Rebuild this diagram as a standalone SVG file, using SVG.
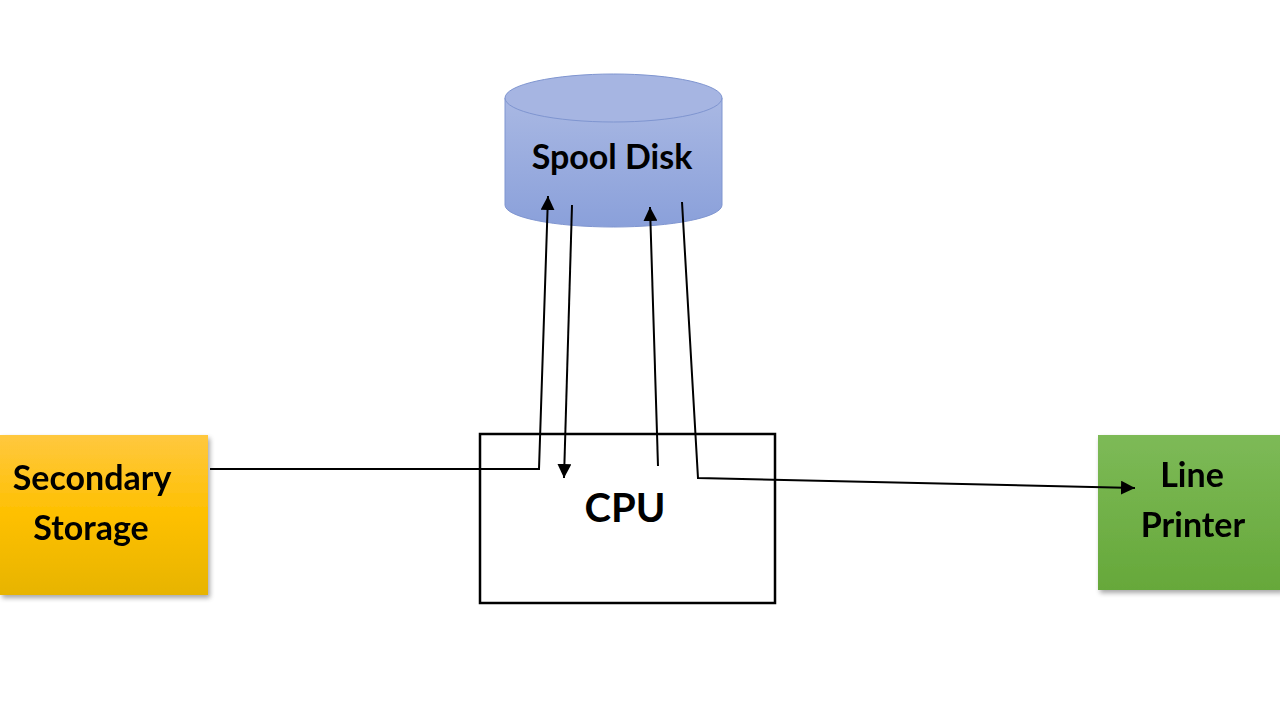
<svg xmlns="http://www.w3.org/2000/svg" width="1280" height="720" viewBox="0 0 1280 720">
<defs>
<linearGradient id="gBlue" x1="0" y1="0" x2="0" y2="1">
<stop offset="0" stop-color="#A9B8E3"/>
<stop offset="1" stop-color="#8AA0DA"/>
</linearGradient>
<linearGradient id="gYellow" x1="0" y1="0" x2="0" y2="1">
<stop offset="0" stop-color="#FFC83F"/>
<stop offset="0.5" stop-color="#FEC000"/>
<stop offset="1" stop-color="#E7B400"/>
</linearGradient>
<linearGradient id="gGreen" x1="0" y1="0" x2="0" y2="1">
<stop offset="0" stop-color="#7DBA57"/>
<stop offset="1" stop-color="#66A83A"/>
</linearGradient>
<filter id="sh" x="-10%" y="-10%" width="130%" height="130%">
<feGaussianBlur in="SourceAlpha" stdDeviation="2.5"/>
<feOffset dx="2" dy="3"/>
<feComponentTransfer><feFuncA type="linear" slope="0.35"/></feComponentTransfer>
<feMerge><feMergeNode/><feMergeNode in="SourceGraphic"/></feMerge>
</filter>
<marker id="arr" viewBox="0 0 10 10" refX="10" refY="5" markerWidth="7" markerHeight="7" orient="auto" markerUnits="strokeWidth">
<path d="M0,0 L10,5 L0,10 z" fill="#000"/>
</marker>
<style>
.lbl{font-family:Lato,"Open Sans","Liberation Sans",sans-serif;font-weight:bold;fill:#000;text-anchor:middle}
.conn{fill:none;stroke:#000;stroke-width:2}
</style>
</defs>
<rect width="1280" height="720" fill="#fff"/>
<g id="spool-disk">
<path d="M505,98 L505,205 A108.5,22 0 0 0 722,205 L722,98 Z" fill="url(#gBlue)" stroke="#7F95D0" stroke-width="1"/>
<ellipse cx="613.5" cy="98" rx="108.5" ry="24" fill="#A6B5E2" stroke="#7F95D0" stroke-width="1"/>
<text class="lbl" x="612" y="169" font-size="34">Spool Disk</text>
</g>
<g id="secondary-storage" filter="url(#sh)">
<rect x="0" y="435" width="208" height="160" fill="url(#gYellow)"/>
<text class="lbl" x="92" y="490" font-size="34">Secondary</text>
<text class="lbl" x="91" y="540" font-size="34">Storage</text>
</g>
<g id="line-printer" filter="url(#sh)">
<rect x="1098" y="435" width="184" height="155" fill="url(#gGreen)"/>
<text class="lbl" x="1192" y="487" font-size="34">Line</text>
<text class="lbl" x="1193" y="537" font-size="34">Printer</text>
</g>
<g id="cpu">
<rect x="480" y="434" width="295" height="169" fill="#fff" stroke="#000" stroke-width="2.5"/>
<text class="lbl" x="625" y="522" font-size="40">CPU</text>
</g>
<g id="connectors">
<polyline class="conn" points="210,469 539,469 548,196" marker-end="url(#arr)"/>
<line class="conn" x1="572" y1="205" x2="564" y2="478" marker-end="url(#arr)"/>
<line class="conn" x1="658" y1="466" x2="650" y2="207" marker-end="url(#arr)"/>
<polyline class="conn" points="682,202 698,478 1135,488" marker-end="url(#arr)"/>
</g>
</svg>
